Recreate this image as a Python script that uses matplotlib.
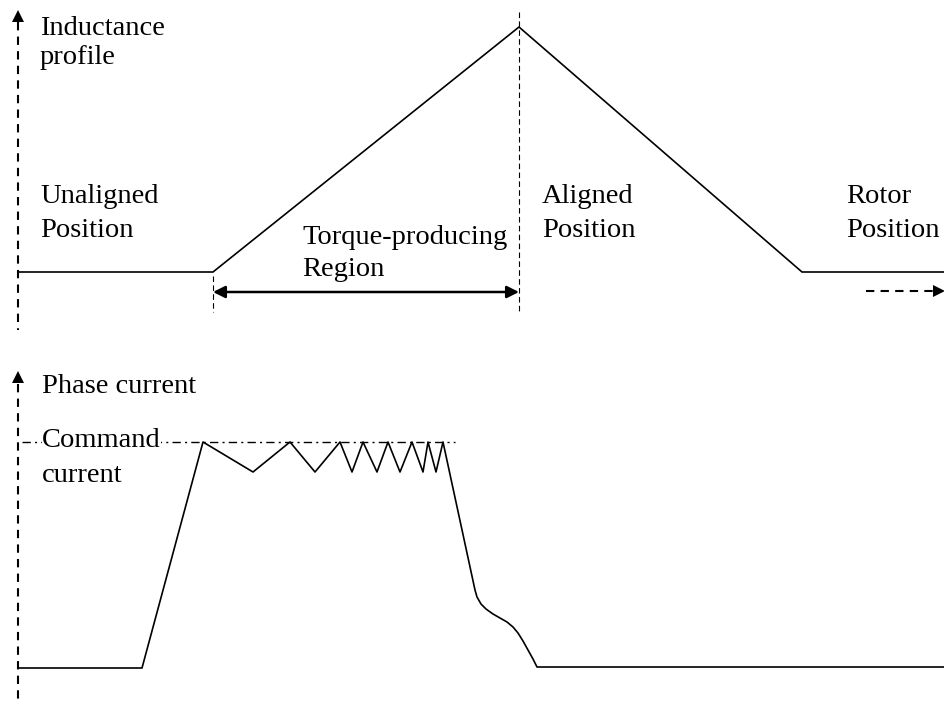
import matplotlib.pyplot as plt

plt.rcParams['font.family'] = ['Liberation Serif', 'DejaVu Serif']

# ---- inductance profile (pixel coords, y downwards) ----
ind_x = [18, 213, 519, 802, 945]
ind_y = [272, 272, 27, 272, 272]

# ---- phase current waveform ----
cur_x = [18, 142, 203, 253, 290, 315, 340, 352, 363, 377, 388, 400, 412, 423,
         428, 436, 443, 475, 477, 481, 486, 493, 500, 507, 513, 518, 523,
         528, 533, 537, 945]
cur_y = [668, 668, 442, 472, 442, 472, 442, 472, 442, 472, 442, 472, 442, 472,
         442, 472, 442, 590, 597, 604, 609, 614, 618, 622, 627, 633, 641,
         650, 659, 667, 667]

cmd_level = 442
cmd_x = [22, 455]

# labels: (text, x, baseline y)
labels = [
    ("Inductance", 40, 35), ("profile", 40, 64),
    ("Unaligned", 40, 203), ("Position", 40, 237),
    ("Torque-producing", 302, 244), ("Region", 302, 276),
    ("Aligned", 542, 203), ("Position", 542, 237),
    ("Rotor", 846, 203), ("Position", 846, 237),
    ("Phase current", 42, 393),
    ("current", 42, 482),
]

fig = plt.figure(figsize=(9.45, 7.04), dpi=100)
ax = fig.add_axes([0, 0, 1, 1])
ax.set_xlim(0, 945)
ax.set_ylim(704, 0)
ax.axis('off')

fs = 20.5

# vertical dashed axes with arrow heads
ax.plot([18, 18], [22, 330], color='k', lw=1.5, ls=(0, (4, 3)))
ax.plot([18], [16], marker='^', color='k', ms=8, mew=0)
ax.plot([18, 18], [384, 704], color='k', lw=1.5, ls=(0, (4, 3)))
ax.plot([18], [377], marker='^', color='k', ms=8, mew=0)

# inductance curve
ax.plot(ind_x, ind_y, color='k', lw=1.2, solid_joinstyle='miter')

# thin dashed guides
ax.plot([519, 519], [12, 312], color='k', lw=0.8, ls=(0, (5, 3)))
ax.plot([213, 213], [276, 312], color='k', lw=0.8, ls=(0, (5, 3)))

# torque-producing region double arrow
ax.annotate('', xy=(519, 292), xytext=(213, 292),
            arrowprops=dict(arrowstyle='<|-|>', color='k', lw=1.8,
                            mutation_scale=18, shrinkA=0, shrinkB=0))

# rotor position dashed arrow
ax.plot([866, 934], [291, 291], color='k', lw=1.5, ls=(0, (4, 3)))
ax.plot([939], [291], marker='>', color='k', ms=8, mew=0)

# command current line (dash-dot)
ax.plot(cmd_x, [cmd_level, cmd_level], color='k', lw=1.0,
        ls=(0, (6, 3, 1.5, 3)))

# phase current
ax.plot(cur_x, cur_y, color='k', lw=1.2)

for txt, x, y in labels:
    ax.text(x, y, txt, fontsize=fs, va='baseline', ha='left')

ax.text(42, 447, "Command", fontsize=fs, va='baseline', ha='left',
        bbox=dict(facecolor='white', edgecolor='none', pad=0))

fig.savefig('out.png', dpi=100)
